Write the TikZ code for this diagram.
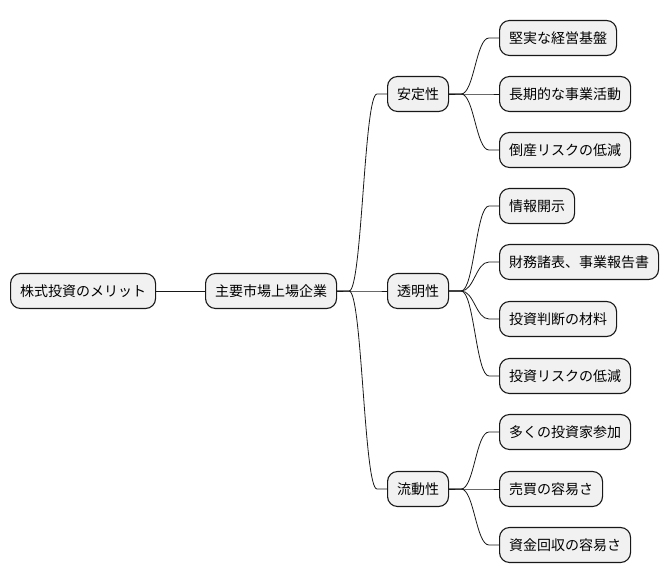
\documentclass[tikz,border=0pt]{standalone}
\usepackage{fontspec}
\setmainfont{Noto Sans CJK JP}
\usepackage{tikz}
\usetikzlibrary{calc}
\definecolor{boxfill}{HTML}{F1F1F1}
\definecolor{boxline}{HTML}{181818}
\begin{document}
\begin{tikzpicture}[x=1pt,y=-1pt,
  topic/.style={draw=boxline,fill=boxfill,line width=1.1pt,rounded corners=10pt,minimum height=35pt,inner xsep=9.5pt,anchor=west,font=\fontsize{14}{16}\selectfont},
  branch/.style={line width=0.8pt,draw=boxline}]
\useasboundingbox (0,0) rectangle (670,583);
\node[topic] (root) at (10,291) {株式投資のメリット};
\node[topic] (main) at (205,291) {主要市場上場企業};
\draw[branch] (root) -- (main);
\foreach \y/\name/\txt in {94/stab/安定性,291/trans/透明性,489/liq/流動性}{
  \node[topic] (\name) at (387,\y) {\txt};
  \draw[branch] (main.east) -- ++(12,0) .. controls ($(main.east)+(25,0)$) and ($(\name.west)+(-23,0)$) .. ($(\name.west)+(-10,0)$) -- (\name.west);
 }
\foreach \y/\name/\up/\txt in {38/a1/stab/{堅実な経営基盤},94/a2/stab/{長期的な事業活動},150/a3/stab/{倒産リスクの低減},
  206/b1/trans/{情報開示},262/b2/trans/{財務諸表、事業報告書},319/b3/trans/{投資判断の材料},376/b4/trans/{投資リスクの低減},
  432/c1/liq/{多くの投資家参加},489/c2/liq/{売買の容易さ},545/c3/liq/{資金回収の容易さ}}{
  \node[topic] (\name) at (499,\y) {\txt};
  \draw[branch] (\up.east) -- ++(12,0) .. controls ($(\up.east)+(25,0)$) and ($(\name.west)+(-23,0)$) .. ($(\name.west)+(-10,0)$) -- (\name.west);
 }
\end{tikzpicture}
\end{document}
